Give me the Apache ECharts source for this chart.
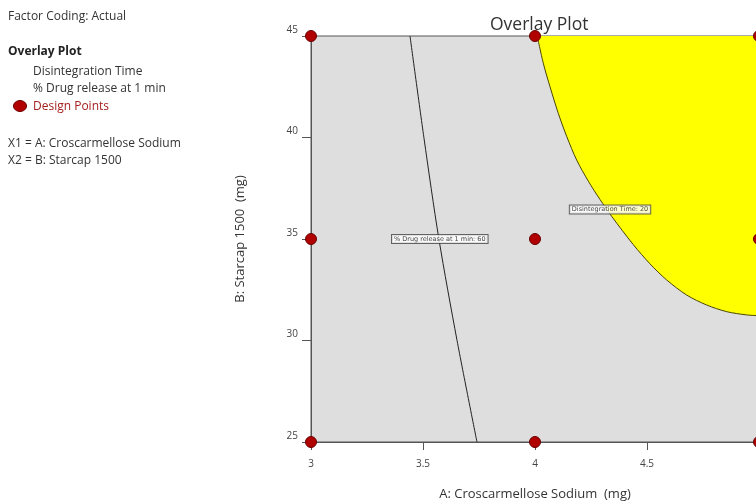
<!DOCTYPE html>
<html>
<head>
<meta charset="utf-8">
<script src="https://cdn.jsdelivr.net/npm/echarts@6/dist/echarts.min.js"></script>
<style>
  html, body { margin: 0; padding: 0; background: #fff; }
  #chart { width: 756px; height: 502px; }
</style>
</head>
<body>
<div id="chart"></div>
<script>
// Design points (A: Croscarmellose Sodium, B: Starcap 1500)
const designA = [3, 3, 3, 4, 4, 4, 5, 5, 5];
const designB = [45, 35, 25, 45, 35, 25, 45, 35, 25];

// Contour: % Drug release at 1 min = 60
const drugA = [3.442, 3.504, 3.571, 3.652, 3.741];
const drugB = [45, 40, 35, 30, 25];

// Contour: Disintegration Time = 20 (feasible region lies above it)
const disA = [4.010, 4.037, 4.067, 4.104, 4.142, 4.186, 4.238, 4.290, 4.342, 4.439, 4.513, 4.588, 4.677, 4.766, 4.856, 4.945, 5.0];
const disB = [45, 43.66, 42.50, 41.19, 40.04, 38.89, 37.85, 36.95, 36.12, 34.72, 33.78, 32.98, 32.24, 31.75, 31.42, 31.26, 31.22];

// Contour label anchors
const contourLabels = [
  { text: '% Drug release at 1 min: 60', a: 3.575, b: 35 },
  { text: 'Disintegration Time: 20', a: 4.335, b: 36.45 }
];

const zip = (xs, ys) => xs.map((x, i) => [x, ys[i]]);
const font = '"Open Sans", "Noto Sans", sans-serif';

const chart = echarts.init(document.getElementById('chart'), null, { renderer: 'canvas' });

chart.setOption({
  animation: false,
  backgroundColor: '#ffffff',
  title: {
    text: 'Overlay Plot',
    left: 485, top: 11,
    textStyle: { fontFamily: font, fontSize: 17.5, fontWeight: 'normal', color: '#333' }
  },
  grid: {
    left: 311, top: 36, width: 448, height: 406,
    outerBoundsMode: 'none', containLabel: false,
    show: true, backgroundColor: '#dedede', borderColor: '#555', borderWidth: 1
  },
  xAxis: {
    type: 'value', min: 3, max: 5, interval: 0.5,
    name: 'A: Croscarmellose Sodium  (mg)', nameLocation: 'middle', nameGap: 46,
    nameTextStyle: { fontFamily: font, fontSize: 13, color: '#333' },
    axisLine: { lineStyle: { color: '#555' } },
    axisTick: { length: 8, lineStyle: { color: '#555' } },
    axisLabel: { fontFamily: font, fontSize: 10, color: '#444', margin: 17 },
    splitLine: { show: false }
  },
  yAxis: {
    type: 'value', min: 25, max: 45, interval: 5,
    name: 'B: Starcap 1500  (mg)', nameLocation: 'middle', nameGap: 64,
    nameTextStyle: { fontFamily: font, fontSize: 13, color: '#333' },
    axisLine: { show: true, lineStyle: { color: '#555' } },
    axisTick: { show: true, length: 9, lineStyle: { color: '#555' } },
    axisLabel: { fontFamily: font, fontSize: 10, color: '#444', margin: 13, verticalAlign: 'bottom', padding: [0, 0, 1, 0] },
    splitLine: { show: false }
  },
  graphic: [
    { type: 'text', left: 8, top: 11, style: { text: 'Factor Coding: Actual', font: '12px ' + font, fill: '#333' } },
    { type: 'text', left: 8, top: 46, style: { text: 'Overlay Plot', font: 'bold 12px ' + font, fill: '#222' } },
    { type: 'text', left: 33, top: 66, style: { text: 'Disintegration Time', font: '12px ' + font, fill: '#333' } },
    { type: 'text', left: 33, top: 83, style: { text: '% Drug release at 1 min', font: '12px ' + font, fill: '#333' } },
    { type: 'ellipse', shape: { cx: 20, cy: 106, rx: 6.5, ry: 5.5 }, style: { fill: '#b00000', stroke: '#6a0000', lineWidth: 1 } },
    { type: 'text', left: 33, top: 101, style: { text: 'Design Points', font: '12px ' + font, fill: '#a52020' } },
    { type: 'text', left: 8, top: 138, style: { text: 'X1 = A: Croscarmellose Sodium', font: '12px ' + font, fill: '#333' } },
    { type: 'text', left: 8, top: 155, style: { text: 'X2 = B: Starcap 1500', font: '12px ' + font, fill: '#333' } }
  ],
  series: [
    {
      // feasible region: area between the contour and the top of the design space
      type: 'line', name: 'Disintegration Time',
      data: zip(disA, disB), smooth: 0.3, symbol: 'none',
      lineStyle: { color: '#4a4500', width: 1 },
      areaStyle: { color: '#ffff00', opacity: 1, origin: 'end' },
      z: 2
    },
    {
      type: 'line', name: '% Drug release at 1 min',
      data: zip(drugA, drugB), smooth: 0.3, symbol: 'none',
      lineStyle: { color: '#222', width: 1 },
      z: 3
    },
    {
      type: 'scatter', name: 'contour labels',
      data: contourLabels.map(d => ({ value: [d.a, d.b], name: d.text })),
      symbolSize: 0, silent: true, z: 5,
      label: {
        show: true, position: 'inside', formatter: p => p.name,
        fontFamily: '"DejaVu Sans", sans-serif', fontSize: 6.5, color: '#111',
        backgroundColor: '#ffffff', borderColor: '#444', borderWidth: 1,
        padding: [1, 2, 0, 2]
      }
    },
    {
      type: 'scatter', name: 'Design Points',
      data: zip(designA, designB), symbolSize: 11, clip: false,
      itemStyle: { color: '#b00000', borderColor: '#6a0000', borderWidth: 1, opacity: 1 },
      z: 6
    }
  ]
});
</script>
</body>
</html>
